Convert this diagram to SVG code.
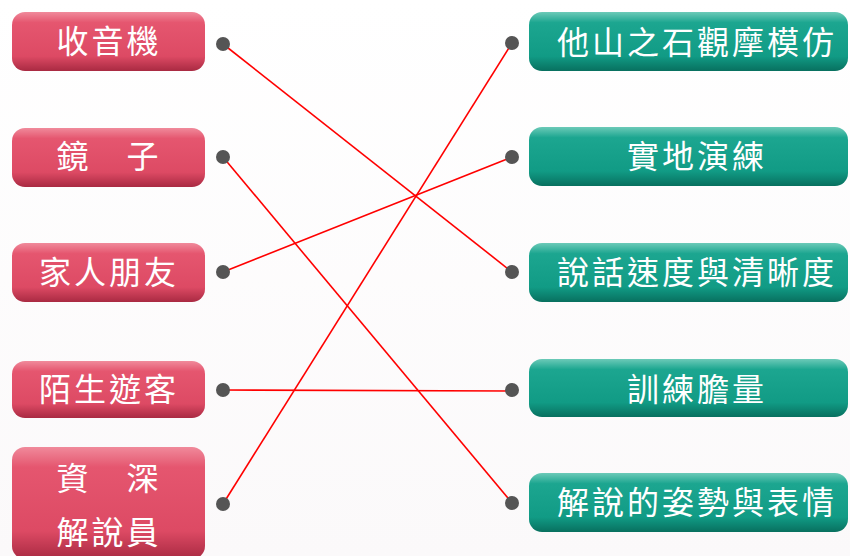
<svg xmlns="http://www.w3.org/2000/svg" width="850" height="556" viewBox="0 0 850 556">
<defs>
<linearGradient id="pink" x1="0" y1="0" x2="0" y2="1">
<stop offset="0" stop-color="#f08a9b"/>
<stop offset="0.18" stop-color="#e5566f"/>
<stop offset="0.75" stop-color="#dd4a64"/>
<stop offset="1" stop-color="#a92a42"/>
</linearGradient>
<linearGradient id="green" x1="0" y1="0" x2="0" y2="1">
<stop offset="0" stop-color="#6ccab8"/>
<stop offset="0.18" stop-color="#1ca690"/>
<stop offset="0.75" stop-color="#119b85"/>
<stop offset="1" stop-color="#08705f"/>
</linearGradient>
<linearGradient id="bg" x1="0" y1="0" x2="0" y2="1">
<stop offset="0" stop-color="#ffffff"/>
<stop offset="1" stop-color="#fbf9fa"/>
</linearGradient>
</defs>
<style>
.lb{fill:url(#pink)}
.rb{fill:url(#green)}
.t{fill:#ffffff;font-family:"Noto Sans CJK TC","Noto Sans CJK SC",sans-serif;font-size:32px;letter-spacing:3px;text-anchor:middle}
.dot{fill:#555555}
.c{stroke:#ff0000;stroke-width:1.6;fill:none}
</style>
<rect width="850" height="556" fill="url(#bg)"/>
<g id="connectors">
<line class="c" x1="223" y1="44" x2="512" y2="272"/>
<line class="c" x1="223" y1="157" x2="512" y2="503"/>
<line class="c" x1="223" y1="272" x2="512" y2="157"/>
<line class="c" x1="223" y1="390" x2="512" y2="391"/>
<line class="c" x1="223" y1="504" x2="512" y2="43"/>
</g>
<g id="n-radio">
<rect class="lb" x="12" y="12" width="193" height="59" rx="13"/>
<text class="t" x="109" y="53">收音機</text>
<circle class="dot" cx="223" cy="44" r="7"/>
</g>
<g id="n-mirror">
<rect class="lb" x="12" y="128" width="193" height="59" rx="13"/>
<text class="t" x="109" y="168">鏡　子</text>
<circle class="dot" cx="223" cy="157" r="7"/>
</g>
<g id="n-family">
<rect class="lb" x="12" y="243" width="193" height="59" rx="13"/>
<text class="t" x="109" y="284">家人朋友</text>
<circle class="dot" cx="223" cy="272" r="7"/>
</g>
<g id="n-stranger">
<rect class="lb" x="12" y="361" width="193" height="57" rx="13"/>
<text class="t" x="109" y="401">陌生遊客</text>
<circle class="dot" cx="223" cy="390" r="7"/>
</g>
<g id="n-senior">
<rect class="lb" x="12" y="447" width="193" height="112" rx="13"/>
<text class="t" x="109" y="490">資　深</text>
<text class="t" x="109" y="544">解說員</text>
<circle class="dot" cx="223" cy="504" r="7"/>
</g>
<g id="n-observe">
<circle class="dot" cx="512" cy="43" r="7"/>
<rect class="rb" x="529" y="12" width="319" height="59" rx="13"/>
<text class="t" x="697" y="54">他山之石觀摩模仿</text>
</g>
<g id="n-practice">
<circle class="dot" cx="512" cy="157" r="7"/>
<rect class="rb" x="529" y="127" width="319" height="59" rx="13"/>
<text class="t" x="697" y="168">實地演練</text>
</g>
<g id="n-speed">
<circle class="dot" cx="512" cy="272" r="7"/>
<rect class="rb" x="529" y="243" width="319" height="59" rx="13"/>
<text class="t" x="697" y="284">說話速度與清晰度</text>
</g>
<g id="n-courage">
<circle class="dot" cx="512" cy="390" r="7"/>
<rect class="rb" x="529" y="359" width="319" height="58" rx="13"/>
<text class="t" x="697" y="401">訓練膽量</text>
</g>
<g id="n-posture">
<circle class="dot" cx="512" cy="503" r="7"/>
<rect class="rb" x="529" y="473" width="319" height="59" rx="13"/>
<text class="t" x="697" y="514">解說的姿勢與表情</text>
</g>
</svg>
